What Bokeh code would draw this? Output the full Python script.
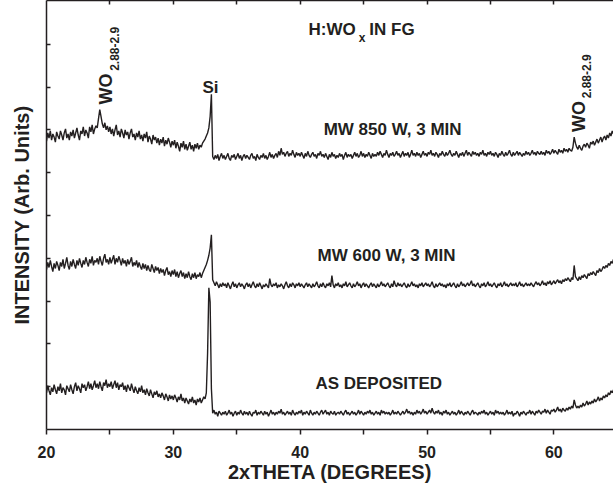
import numpy as np
from bokeh.plotting import figure
from bokeh.models import Range1d, LinearAxis, FixedTicker, CustomJSTickFormatter
from bokeh.core.properties import value
from bokeh.embed import file_html
from bokeh.resources import INLINE

# ---- data, scan step 0.1 deg starting at 20.0 deg ----
# each row = one degree (x.0 ... x.9)
two_theta_start = 20.0
two_theta_step = 0.1

mw850 = [
    283, 291, 286, 293, 284, 290, 287, 282, 292, 288,  # 20
    285, 293, 289, 284, 291, 295, 286, 290, 284, 292,  # 21
    288, 294, 286, 291, 296, 289, 284, 293, 290, 297,  # 22
    288, 294, 291, 286, 297, 292, 299, 290, 295, 298,  # 23
    296, 305, 314, 307, 300, 296, 301, 294, 298, 292,  # 24
    297, 290, 295, 288, 294, 299, 289, 293, 287, 295,  # 25
    291, 286, 294, 289, 292, 285, 291, 295, 287, 290,  # 26
    284, 291, 287, 293, 285, 289, 283, 290, 286, 292,  # 27
    282, 288, 285, 280, 289, 284, 287, 281, 286, 279,  # 28
    285, 281, 287, 278, 284, 280, 286, 282, 277, 283,  # 29
    279, 284, 276, 282, 278, 273, 281, 277, 283, 275,  # 30
    280, 274, 278, 282, 275, 279, 273, 280, 276, 281,  # 31
    275, 279, 277, 281, 283, 285, 288, 291, 296, 307,  # 32
    329, 268, 265, 269, 266, 270, 264, 268, 271, 266,  # 33
    269, 265, 268, 271, 266, 264, 269, 267, 270, 265,  # 34
    268, 271, 266, 269, 264, 268, 270, 266, 269, 267,  # 35
    265, 269, 271, 266, 268, 264, 270, 267, 265, 269,  # 36
    267, 271, 266, 269, 265, 268, 272, 267, 270, 266,  # 37
    269, 271, 267, 273, 269, 276, 270, 272, 268, 271,  # 38
    273, 268, 271, 269, 274, 270, 267, 272, 269, 271,  # 39
    268, 272, 269, 266, 271, 268, 273, 269, 267, 270,  # 40
    272, 268, 270, 266, 271, 269, 273, 268, 270, 267,  # 41
    271, 268, 265, 270, 267, 272, 268, 270, 266, 269,  # 42
    267, 271, 268, 270, 265, 269, 272, 267, 270, 268,  # 43
    270, 266, 269, 272, 268, 271, 267, 269, 273, 268,  # 44
    271, 267, 270, 268, 272, 269, 266, 271, 268, 270,  # 45
    268, 272, 269, 273, 270, 267, 271, 269, 274, 270,  # 46
    267, 271, 269, 272, 268, 270, 273, 269, 271, 267,  # 47
    270, 273, 268, 271, 269, 272, 267, 270, 274, 269,  # 48
    271, 268, 272, 269, 271, 267, 270, 273, 269, 271,  # 49
    268, 272, 270, 274, 269, 271, 268, 272, 270, 267,  # 50
    271, 269, 273, 270, 268, 272, 269, 271, 274, 270,  # 51
    268, 271, 269, 273, 270, 267, 271, 269, 272, 268,  # 52
    271, 274, 269, 272, 270, 268, 273, 270, 272, 269,  # 53
    271, 268, 272, 270, 274, 269, 271, 268, 272, 270,  # 54
    273, 269, 271, 268, 272, 270, 267, 271, 269, 273,  # 55
    270, 268, 272, 269, 271, 274, 270, 268, 272, 269,  # 56
    271, 273, 269, 272, 270, 268, 271, 269, 273, 270,  # 57
    272, 269, 271, 274, 270, 272, 269, 273, 271, 270,  # 58
    273, 270, 272, 269, 274, 271, 273, 270, 272, 275,  # 59
    271, 274, 272, 270, 275, 272, 274, 271, 276, 273,  # 60
    275, 272, 276, 274, 273, 277, 287, 281, 277, 275,  # 61
    279, 276, 274, 278, 280, 277, 281, 279, 276, 282,  # 62
    280, 283, 279, 282, 285, 281, 284, 287, 282, 286,  # 63
    288, 284, 289, 286, 291, 288, 293, 290, 295, 297,  # 64
]

mw600 = [
    157, 164, 159, 166, 160, 155, 163, 158, 165, 161,  # 20
    156, 164, 160, 167, 158, 163, 169, 161, 157, 165,  # 21
    160, 167, 162, 158, 166, 161, 168, 163, 159, 166,  # 22
    162, 169, 164, 160, 167, 163, 170, 161, 166, 164,  # 23
    168, 162, 170, 165, 161, 168, 172, 164, 167, 162,  # 24
    169, 163, 167, 171, 162, 168, 164, 170, 166, 161,  # 25
    168, 163, 166, 160, 167, 162, 165, 169, 160, 164,  # 26
    161, 166, 159, 164, 160, 157, 163, 158, 162, 156,  # 27
    161, 157, 155, 162, 158, 154, 160, 156, 159, 153,  # 28
    158, 154, 157, 151, 156, 159, 152, 155, 150, 156,  # 29
    152, 157, 150, 155, 149, 153, 156, 150, 154, 148,  # 30
    153, 149, 155, 150, 147, 153, 149, 154, 148, 152,  # 31
    150, 154, 149, 153, 156, 159, 162, 166, 171, 178,  # 32
    191, 147, 144, 141, 145, 142, 139, 143, 140, 144,  # 33
    141, 143, 139, 144, 141, 138, 142, 145, 140, 143,  # 34
    139, 142, 144, 140, 143, 141, 138, 142, 144, 140,  # 35
    143, 139, 142, 145, 141, 139, 143, 140, 144, 141,  # 36
    138, 142, 140, 143, 141, 139, 148, 142, 140, 143,  # 37
    141, 144, 139, 142, 140, 143, 141, 138, 142, 145,  # 38
    141, 139, 143, 140, 144, 142, 139, 143, 141, 144,  # 39
    140, 143, 141, 139, 142, 144, 140, 143, 141, 139,  # 40
    143, 140, 142, 145, 141, 139, 143, 140, 144, 141,  # 41
    139, 143, 141, 144, 140, 151, 142, 139, 143, 141,  # 42
    144, 140, 142, 139, 143, 141, 145, 140, 142, 144,  # 43
    141, 139, 143, 140, 142, 145, 141, 143, 139, 142,  # 44
    144, 140, 143, 141, 139, 142, 144, 140, 143, 141,  # 45
    139, 143, 140, 142, 145, 141, 143, 140, 142, 144,  # 46
    141, 139, 143, 140, 146, 142, 140, 144, 141, 143,  # 47
    140, 142, 144, 141, 139, 143, 140, 142, 145, 141,  # 48
    143, 140, 142, 139, 143, 141, 144, 140, 142, 144,  # 49
    141, 143, 140, 142, 145, 141, 139, 143, 140, 142,  # 50
    144, 141, 143, 140, 142, 139, 143, 141, 144, 140,  # 51
    142, 144, 141, 139, 143, 140, 142, 145, 141, 143,  # 52
    140, 142, 144, 141, 143, 146, 141, 143, 140, 142,  # 53
    144, 141, 139, 143, 141, 144, 140, 142, 145, 141,  # 54
    143, 140, 142, 144, 141, 139, 143, 141, 144, 140,  # 55
    142, 145, 141, 143, 140, 142, 144, 141, 143, 141,  # 56
    144, 140, 142, 145, 141, 143, 140, 142, 144, 141,  # 57
    143, 141, 144, 142, 140, 143, 145, 142, 144, 141,  # 58
    143, 146, 142, 144, 141, 145, 143, 146, 142, 144,  # 59
    146, 143, 145, 147, 144, 146, 143, 147, 145, 148,  # 60
    146, 149, 147, 145, 149, 147, 161, 150, 148, 146,  # 61
    150, 147, 151, 149, 152, 150, 148, 153, 151, 154,  # 62
    152, 155, 153, 151, 156, 154, 158, 155, 157, 160,  # 63
    158, 161, 159, 163, 161, 165, 163, 167, 165, 169,  # 64
]

as_deposited = [
    36, 43, 38, 34, 41, 37, 44, 39, 35, 42,  # 20
    38, 45, 36, 41, 39, 34, 43, 40, 37, 44,  # 21
    39, 35, 42, 46, 38, 43, 40, 36, 45, 41,  # 22
    44, 38, 42, 47, 40, 45, 39, 43, 48, 41,  # 23
    45, 40, 47, 42, 38, 46, 43, 49, 41, 45,  # 24
    42, 47, 40, 44, 48, 41, 46, 39, 44, 42,  # 25
    46, 39, 43, 37, 44, 41, 38, 45, 40, 36,  # 26
    42, 38, 35, 41, 37, 43, 36, 39, 34, 40,  # 27
    36, 33, 39, 35, 31, 37, 34, 38, 32, 35,  # 28
    31, 36, 33, 29, 35, 32, 28, 34, 30, 33,  # 29
    29, 34, 31, 27, 32, 29, 35, 28, 31, 26,  # 30
    31, 28, 25, 30, 27, 32, 26, 29, 24, 30,  # 31
    27, 31, 26, 29, 32, 30, 36, 75, 139, 125,  # 32
    40, 16, 19, 15, 17, 13, 18, 16, 14, 17,  # 33
    15, 18, 14, 16, 19, 15, 17, 13, 16, 18,  # 34
    14, 17, 15, 19, 16, 14, 18, 15, 17, 14,  # 35
    18, 15, 13, 17, 16, 19, 14, 17, 15, 18,  # 36
    16, 14, 18, 15, 17, 13, 16, 19, 15, 17,  # 37
    14, 17, 15, 18, 16, 20, 15, 17, 14, 16,  # 38
    18, 15, 17, 14, 19, 16, 14, 17, 15, 18,  # 39
    16, 19, 14, 17, 15, 18, 16, 14, 19, 16,  # 40
    14, 17, 15, 18, 16, 14, 17, 19, 15, 17,  # 41
    19, 15, 17, 14, 18, 16, 15, 18, 14, 16,  # 42
    17, 15, 18, 16, 14, 17, 19, 15, 17, 14,  # 43
    16, 18, 15, 17, 14, 16, 19, 15, 18, 16,  # 44
    14, 17, 15, 18, 16, 19, 15, 17, 14, 16,  # 45
    18, 15, 17, 14, 19, 16, 18, 15, 17, 15,  # 46
    17, 14, 16, 19, 15, 17, 15, 18, 16, 14,  # 47
    16, 18, 15, 17, 20, 16, 18, 15, 17, 14,  # 48
    17, 15, 19, 16, 18, 15, 17, 20, 16, 18,  # 49
    15, 17, 19, 16, 21, 17, 15, 18, 16, 19,  # 50
    15, 17, 14, 18, 16, 19, 15, 17, 14, 16,  # 51
    18, 15, 17, 14, 16, 19, 15, 18, 16, 14,  # 52
    17, 15, 18, 16, 14, 17, 19, 15, 17, 16,  # 53
    14, 17, 15, 18, 16, 19, 15, 17, 14, 16,  # 54
    18, 15, 17, 14, 19, 16, 18, 15, 17, 15,  # 55
    17, 14, 16, 19, 15, 17, 15, 18, 13, 16,  # 56
    15, 18, 16, 13, 17, 15, 18, 16, 14, 17,  # 57
    16, 19, 15, 18, 16, 14, 18, 16, 19, 17,  # 58
    15, 18, 17, 20, 16, 19, 17, 15, 19, 18,  # 59
    20, 17, 19, 22, 18, 20, 17, 21, 19, 18,  # 60
    21, 19, 22, 20, 23, 21, 29, 24, 21, 23,  # 61
    21, 24, 22, 26, 23, 25, 28, 24, 27, 25,  # 62
    28, 26, 30, 27, 29, 32, 28, 31, 29, 33,  # 63
    31, 34, 32, 36, 34, 38, 36, 39, 37, 41,  # 64
]

x_ticks = [20, 30, 40, 50, 60]
x_minor_ticks = [25, 35, 45, 55, 65]
top_ticks = [25, 30, 35, 40, 45, 50, 55, 60]
y_ticks = [42, 84, 126, 168, 210, 252, 294, 336, 378]

sample_labels = ["MW 850 W, 3 MIN", "MW 600 W, 3 MIN", "AS DEPOSITED"]
sample_label_x = [41.85, 41.37, 41.2]
sample_label_y = [294, 171, 45]

INK = "#231f20"
FONT = "Liberation Sans"

p = figure(width=613, height=487, x_range=Range1d(20, 64.7), y_range=Range1d(0, 421),
           output_backend="svg", toolbar_location=None,
           min_border_left=46, min_border_right=0, min_border_top=0, min_border_bottom=58)
p.outline_line_color = None
p.grid.visible = False
p.background_fill_color = "white"
p.border_fill_color = "white"


def trace_x(vals):
    return np.round(two_theta_start + two_theta_step * np.arange(len(vals)), 2)


for vals in (mw850, mw600, as_deposited):
    p.line(trace_x(vals), vals, line_color=INK, line_width=1.4)

# bottom axis
xa = p.xaxis[0]
xa.ticker = FixedTicker(ticks=x_ticks, minor_ticks=x_minor_ticks)
xa.major_tick_out = 5
xa.major_tick_in = 0
xa.minor_tick_out = 5
xa.minor_tick_in = 0
xa.axis_line_width = 1.5
xa.major_tick_line_width = 1.5
xa.minor_tick_line_width = 1.5
xa.axis_line_color = INK
xa.major_tick_line_color = INK
xa.minor_tick_line_color = INK
xa.major_label_text_font = FONT
xa.major_label_text_font_style = "bold"
xa.major_label_text_font_size = "16px"
xa.major_label_text_color = INK
xa.major_label_standoff = 11
xa.axis_label = "2xTHETA (DEGREES)"
xa.axis_label_text_font = FONT
xa.axis_label_text_font_style = "bold"
xa.axis_label_text_font_size = "20px"
xa.axis_label_text_color = INK
xa.axis_label_standoff = 0

# left axis
ya = p.yaxis[0]
ya.ticker = FixedTicker(ticks=y_ticks, minor_ticks=[])
ya.formatter = CustomJSTickFormatter(code="return '';")
ya.major_tick_in = 4
ya.major_tick_out = 0
ya.minor_tick_in = 0
ya.minor_tick_out = 0
ya.major_label_standoff = 0
ya.axis_line_width = 1.5
ya.major_tick_line_width = 1.5
ya.axis_line_color = INK
ya.major_tick_line_color = INK
ya.axis_label = "INTENSITY (Arb. Units)"
ya.axis_label_text_font = FONT
ya.axis_label_text_font_style = "bold"
ya.axis_label_text_font_size = "20px"
ya.axis_label_text_color = INK
ya.axis_label_standoff = 14

# top axis (ticks only)
ta = LinearAxis(ticker=FixedTicker(ticks=top_ticks, minor_ticks=[]),
                formatter=CustomJSTickFormatter(code="return '';"))
ta.major_tick_in = 4
ta.major_tick_out = 0
ta.minor_tick_in = 0
ta.minor_tick_out = 0
ta.major_label_standoff = 0
ta.axis_line_width = 1.5
ta.major_tick_line_width = 1.5
ta.axis_line_color = INK
ta.major_tick_line_color = INK
p.add_layout(ta, "above")

common = dict(text_font=value(FONT), text_font_style="bold", text_color=INK,
              text_baseline="alphabetic")

# sample labels
p.text(x=sample_label_x, y=sample_label_y, text=sample_labels,
       text_font_size="17px", text_align="left", **common)

# title H:WO_x IN FG
p.text(x=[40.66, 45.45], y=[393, 393], text=["H:WO", "IN FG"],
       text_font_size="17px", text_align="left", **common)
p.text(x=[44.62], y=[384], text=["x"], text_font_size="12px", text_align="left", **common)

# Si peak label
p.text(x=[32.93], y=[336], text=["Si"], text_font_size="17px", text_align="center", **common)

# rotated WO_{2.88-2.9} labels
p.text(x=[24.73, 61.96], y=[319, 292], text=["WO", "WO"], angle=np.pi / 2,
       text_font_size="18px", text_align="left", **common)
p.text(x=[25.36, 62.59], y=[352, 325], text=["2.88-2.9", "2.88-2.9"], angle=np.pi / 2,
       text_font_size="12px", text_align="left", **common)

open("out.html", "w").write(file_html(p, INLINE))
